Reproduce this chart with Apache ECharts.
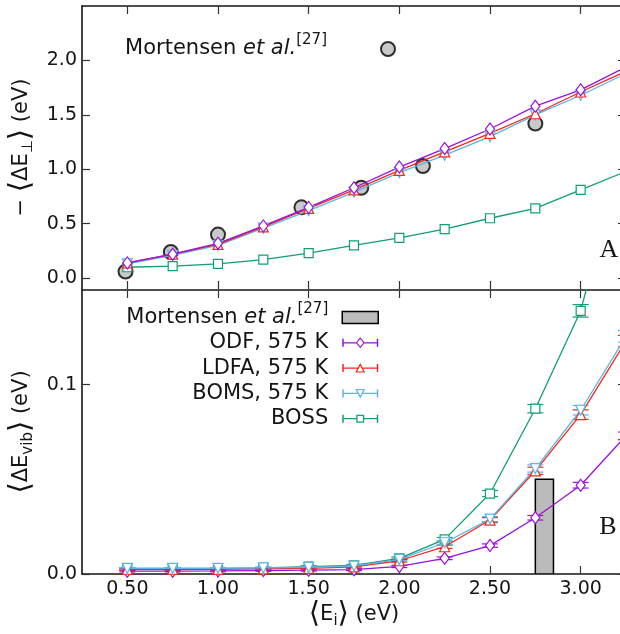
<!DOCTYPE html>
<html>
<head>
<meta charset="utf-8">
<script src="https://cdn.jsdelivr.net/npm/echarts@6.0.0/dist/echarts.min.js"></script>
<style>
  html, body { margin: 0; padding: 0; background: #fff; }
  #chart { width: 620px; height: 634px; }
</style>
</head>
<body>
<div id="chart"></div>
<script>
    // incident energies <E_i> (eV)
    var energies = [0.5, 0.75, 1.0, 1.25, 1.5, 1.75, 2.0, 2.25, 2.5, 2.75, 3.0, 3.25];

    // panel A: -<dE_perp> (eV)
    var odfPerp = [0.14, 0.22, 0.32, 0.48, 0.65, 0.83, 1.02, 1.19, 1.37, 1.58, 1.73, 1.94];
    var ldfaPerp = [0.14, 0.22, 0.31, 0.47, 0.64, 0.81, 0.99, 1.16, 1.33, 1.51, 1.71, 1.90];
    var bomsPerp = [0.13, 0.21, 0.30, 0.46, 0.62, 0.79, 0.97, 1.13, 1.30, 1.50, 1.68, 1.88];
    var bossPerp = [0.10, 0.11, 0.13, 0.17, 0.23, 0.30, 0.37, 0.45, 0.55, 0.64, 0.81, 0.98];

    // Mortensen et al. [27], panel A
    var exptEnergies = [0.49, 0.74, 1.0, 1.46, 1.79, 2.13, 2.75];
    var exptPerp = [0.06, 0.24, 0.40, 0.65, 0.83, 1.03, 1.42];

    // panel B: <dE_vib> (eV) and error bars
    var odfVib = [0.0015, 0.0015, 0.0016, 0.0018, 0.002, 0.0023, 0.004, 0.0083, 0.015, 0.0297, 0.0469, 0.073];
    var ldfaVib = [0.0025, 0.0025, 0.0025, 0.0027, 0.003, 0.0038, 0.007, 0.0144, 0.0285, 0.0545, 0.0842, 0.123];
    var bomsVib = [0.003, 0.003, 0.003, 0.0032, 0.0035, 0.0042, 0.0077, 0.0165, 0.029, 0.0557, 0.0865, 0.1255];
    var bossVib = [0.003, 0.003, 0.003, 0.0032, 0.0039, 0.0046, 0.0083, 0.0183, 0.0425, 0.0873, 0.139, 0.23];
    var odfErr = [0.0004, 0.0004, 0.0004, 0.0004, 0.0005, 0.0005, 0.0006, 0.0007, 0.0009, 0.0012, 0.0015, 0.002];
    var ldfaErr = [0.0004, 0.0004, 0.0004, 0.0004, 0.0005, 0.0005, 0.0007, 0.0009, 0.0013, 0.0019, 0.0025, 0.003];
    var bomsErr = [0.0004, 0.0004, 0.0004, 0.0004, 0.0005, 0.0005, 0.0007, 0.0009, 0.0013, 0.0019, 0.0025, 0.003];
    var bossErr = [0.0004, 0.0004, 0.0004, 0.0004, 0.0005, 0.0005, 0.0007, 0.0010, 0.0016, 0.0022, 0.0033, 0.004];

    // Mortensen et al. [27], panel B: [from, to, height]
    var exptBar = [[2.75, 2.85, 0.05]];

    var xTicks = [0.5, 1.0, 1.5, 2.0, 2.5, 3.0];
    var yTicksA = [0.0, 0.5, 1.0, 1.5, 2.0];
    var yTicksB = [0.0, 0.1];

    var colOdf = '#9a10dc';
    var colLdfa = '#f0281c';
    var colBoms = '#5ab4e8';
    var colBoss = '#0f9e76';
    var font = 'DejaVu Sans';
    var ink = '#151515';

    function pairs(xs, ys) {
        return xs.map(function (x, i) { return [x, ys[i]]; });
    }

    function bars(xs, ys, es) {
        return xs.map(function (x, i) { return [x, ys[i] - es[i], ys[i] + es[i]]; });
    }

    function lineSeries(name, idx, data, color, symbol, size, rotate, z) {
        return {
            type: 'line', name: name, xAxisIndex: idx, yAxisIndex: idx,
            data: data, symbol: symbol, symbolSize: size, symbolRotate: rotate || 0,
            showAllSymbol: true, clip: true, z: z || 3,
            lineStyle: {color: color, width: 1.3},
            itemStyle: {color: '#fff', borderColor: color, borderWidth: 1.2}
        };
    }

    function errSeries(name, data, color, z) {
        return {
            type: 'custom', name: name, xAxisIndex: 2, yAxisIndex: 2, clip: true, z: z,
            data: data,
            renderItem: function (params, api) {
                var lo = api.coord([api.value(0), api.value(1)]);
                var hi = api.coord([api.value(0), api.value(2)]);
                var w = 8;
                var st = {stroke: color, lineWidth: 1.2};
                return {
                    type: 'group', children: [
                        {type: 'line', shape: {x1: lo[0], y1: lo[1], x2: hi[0], y2: hi[1]}, style: st},
                        {type: 'line', shape: {x1: lo[0] - w, y1: lo[1], x2: lo[0] + w, y2: lo[1]}, style: st},
                        {type: 'line', shape: {x1: hi[0] - w, y1: hi[1], x2: hi[0] + w, y2: hi[1]}, style: st}
                    ]
                };
            }
        };
    }

    // legend handles: caps + line + hollow marker (36 x 12 box)
    var frame = 'M0 0L0 0ZM36 12L36 12ZM0 2H1.5V10H0ZM34.5 2H36V10H34.5Z';
    var iconDiamond = 'path://' + frame + 'M0 5.4H14V6.6H0ZM22 5.4H36V6.6H22Z' +
        'M18 0.5L22.5 6L18 11.5L13.5 6ZM18 2.2L14.9 6L18 9.8L21.1 6Z';
    var iconUp = 'path://' + frame + 'M0 5.4H16V6.6H0ZM20 5.4H36V6.6H20Z' +
        'M18 1L23 10.5L13 10.5ZM18 3.6L14.9 9.3L21.1 9.3Z';
    var iconDown = 'path://' + frame + 'M0 5.4H16V6.6H0ZM20 5.4H36V6.6H20Z' +
        'M13 1.5L23 1.5L18 11ZM14.9 2.7L18 8.4L21.1 2.7Z';
    var iconSquare = 'path://' + frame + 'M0 5.4H14.5V6.6H0ZM21.5 5.4H36V6.6H21.5Z' +
        'M14 2H22V10H14ZM15.3 3.3V8.7H20.7V3.3Z';

    function xAxis(grid, pos, labels, line) {
        return {
            type: 'value', gridIndex: grid, position: pos, min: 0.25, max: 3.25,
            axisLine: {show: line, onZero: false, lineStyle: {color: ink, width: 1.6}},
            axisTick: {show: true, inside: true, length: 8, customValues: xTicks, lineStyle: {color: '#333', width: 1.2}},
            axisLabel: {
                show: labels, customValues: xTicks, margin: 6, color: ink, fontFamily: font, fontSize: 19,
                formatter: function (v) { return v.toFixed(2); }
            },
            splitLine: {show: false}
        };
    }

    function yAxis(grid, pos, min, max, ticks, labels) {
        return {
            type: 'value', gridIndex: grid, position: pos, min: min, max: max,
            axisLine: {show: true, onZero: false, lineStyle: {color: ink, width: 1.6}},
            axisTick: {show: true, inside: true, length: 8, customValues: ticks, lineStyle: {color: '#333', width: 1.2}},
            axisLabel: {
                show: labels, customValues: ticks, margin: 5, color: ink, fontFamily: font, fontSize: 19,
                formatter: function (v) { return v.toFixed(1); }
            },
            splitLine: {show: false}
        };
    }

    var nameRich = {
        t: {fontFamily: font, fontSize: 21, lineHeight: 28, color: ink},
        b: {fontFamily: font, fontSize: 29, lineHeight: 28, color: ink},
        u: {fontFamily: font, fontSize: 15, lineHeight: 15, verticalAlign: 'bottom', color: ink}
    };

    function legendRich(gap) {
        return {
            n: {fontFamily: font, fontSize: 21, lineHeight: 32, color: ink},
            i: {fontFamily: font, fontSize: 21, lineHeight: 32, fontStyle: 'italic', color: ink},
            s: {fontFamily: font, fontSize: 15, lineHeight: 15, verticalAlign: 'top', color: ink, padding: [0, gap, 0, 0]},
            e: {fontFamily: font, fontSize: 21, lineHeight: 32, color: ink, padding: [0, gap, 0, 0]}
        };
    }

    var xA = xAxis(0, 'bottom', false, false);
    var xB = xAxis(1, 'bottom', true, true);
    xB.name = '{b|⟨}{t|E}{u|i}{b|⟩}{t| (eV)}';
    xB.nameLocation = 'middle';
    xB.nameGap = 13;
    xB.nameTextStyle = {rich: nameRich};

    var yA = yAxis(0, 'left', -0.1, 2.5, yTicksA, true);
    yA.name = '{t|− }{b|⟨}{t|ΔE}{u|⊥}{b|⟩}{t| (eV)}';
    yA.nameLocation = 'middle';
    yA.nameRotate = 90;
    yA.nameGap = 41;
    yA.nameTextStyle = {rich: nameRich};

    var yB = yAxis(1, 'left', 0, 0.15, yTicksB, true);
    yB.name = '{b|⟨}{t|ΔE}{u|vib}{b|⟩}{t| (eV)}';
    yB.nameLocation = 'middle';
    yB.nameRotate = 90;
    yB.nameGap = 44;
    yB.nameTextStyle = {rich: nameRich};

    var chart = echarts.init(document.getElementById('chart'), null, {renderer: 'canvas'});
    chart.setOption({
        animation: false,
        backgroundColor: '#fff',
        grid: [
            {left: 82, right: -6, top: 6, height: 283, outerBoundsMode: 'none'},
            {left: 82, right: -6, top: 290, height: 284, outerBoundsMode: 'none'}
        ],
        xAxis: [xA, xAxis(0, 'top', false, true), xB, xAxis(1, 'top', false, true)],
        yAxis: [yA, yAxis(0, 'right', -0.1, 2.5, yTicksA, false), yB, yAxis(1, 'right', 0, 0.15, yTicksB, false)],
        legend: [
            {
                data: [{name: 'exptA', icon: 'circle'}],
                orient: 'vertical', align: 'right', right: 224, top: 33, padding: 0,
                itemWidth: 14, itemHeight: 14, selectedMode: false,
                formatter: function () { return '{n|Mortensen }{i|et al.}{s|[27]}'; },
                textStyle: {rich: legendRich(49)}
            },
            {
                data: [
                    {name: 'exptB', icon: 'rect', itemStyle: {color: '#bbbbbb', borderColor: '#000', borderWidth: 1.5}},
                    {name: 'ODF, 575 K', icon: iconDiamond, itemStyle: {color: colOdf, borderWidth: 0}},
                    {name: 'LDFA, 575 K', icon: iconUp, itemStyle: {color: colLdfa, borderWidth: 0}},
                    {name: 'BOMS, 575 K', icon: iconDown, itemStyle: {color: colBoms, borderWidth: 0}},
                    {name: 'BOSS', icon: iconSquare, itemStyle: {color: colBoss, borderWidth: 0}}
                ],
                orient: 'vertical', align: 'right', right: 241, top: 301.5, padding: 0,
                itemWidth: 36, itemHeight: 12, itemGap: 4.3, selectedMode: false,
                formatter: function (name) {
                    if (name === 'exptB') return '{n|Mortensen }{i|et al.}{s|[27]}';
                    return '{e|' + name + '}';
                },
                textStyle: {rich: legendRich(9)}
            }
        ],
        graphic: [
            {type: 'text', x: 609, y: 250, style: {text: 'A', font: '26px "Liberation Serif"', align: 'center', verticalAlign: 'middle', fill: ink}},
            {type: 'text', x: 608, y: 527, style: {text: 'B', font: '26px "Liberation Serif"', align: 'center', verticalAlign: 'middle', fill: ink}}
        ],
        series: [
            {
                type: 'scatter', name: 'exptA', xAxisIndex: 0, yAxisIndex: 0, z: 1,
                data: pairs(exptEnergies, exptPerp), symbol: 'circle', symbolSize: 14,
                itemStyle: {color: '#bbbbbb', borderColor: '#000', borderWidth: 2}
            },
            lineSeries('BOSS A', 0, pairs(energies, bossPerp), colBoss, 'rect', 9),
            lineSeries('BOMS A', 0, pairs(energies, bomsPerp), colBoms, 'triangle', 10, 180),
            lineSeries('LDFA A', 0, pairs(energies, ldfaPerp), colLdfa, 'triangle', 10),
            lineSeries('ODF A', 0, pairs(energies, odfPerp), colOdf, 'diamond', [9, 12]),
            {
                type: 'custom', name: 'exptB', xAxisIndex: 2, yAxisIndex: 2, z: 1, clip: true,
                data: exptBar,
                itemStyle: {color: '#bbbbbb', borderColor: '#000', borderWidth: 1.5},
                renderItem: function (params, api) {
                    var p0 = api.coord([api.value(0), api.value(2)]);
                    var p1 = api.coord([api.value(1), 0]);
                    return {
                        type: 'rect',
                        shape: {x: p0[0], y: p0[1], width: p1[0] - p0[0], height: p1[1] - p0[1]},
                        style: {fill: '#bbbbbb', stroke: '#000', lineWidth: 1.5}
                    };
                }
            },
            errSeries('BOSS err', bars(energies, bossVib, bossErr), colBoss, 2),
            lineSeries('BOSS', 2, pairs(energies, bossVib), colBoss, 'rect', 9, 0, 3),
            errSeries('ODF err', bars(energies, odfVib, odfErr), colOdf, 4),
            errSeries('LDFA err', bars(energies, ldfaVib, ldfaErr), colLdfa, 4),
            errSeries('BOMS err', bars(energies, bomsVib, bomsErr), colBoms, 4),
            lineSeries('ODF, 575 K', 2, pairs(energies, odfVib), colOdf, 'diamond', [9, 12], 0, 5),
            lineSeries('LDFA, 575 K', 2, pairs(energies, ldfaVib), colLdfa, 'triangle', 10, 0, 5),
            lineSeries('BOMS, 575 K', 2, pairs(energies, bomsVib), colBoms, 'triangle', 10, 180, 5)
        ]
    });
</script>
</body>
</html>
